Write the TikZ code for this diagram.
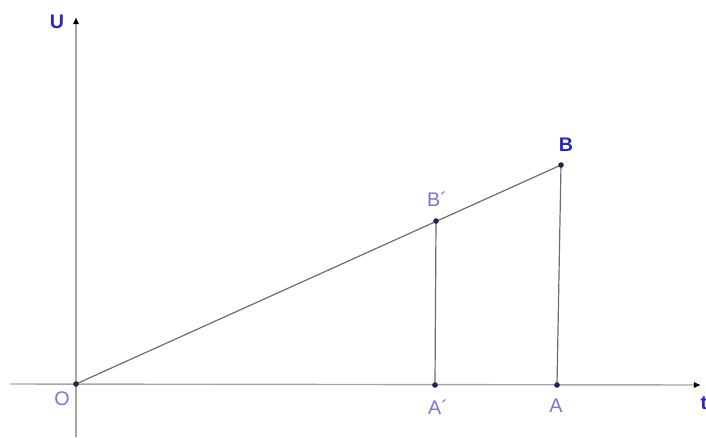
\documentclass[tikz,border=0pt]{standalone}
\usepackage{fontspec}
\setmainfont{Liberation Sans}
\usetikzlibrary{arrows.meta, positioning, calc}
\definecolor{lblblue}{RGB}{120,118,210}
\definecolor{ptblue}{RGB}{40,40,190}
\definecolor{dotnavy}{RGB}{35,35,90}

\begin{document}
\begin{tikzpicture}[
  x=0.025cm, y=-0.025cm,
  font=\fontsize{14}{16}\selectfont,
  >=Latex,
  axis/.style={draw=gray!70, line width=1pt},
  seg/.style={draw=gray!85!black, line width=0.85pt},
  pt/.style={circle, fill=dotnavy, inner sep=0pt, minimum size=4pt},
  lbl/.style={text=lblblue, inner sep=1pt},
  blbl/.style={text=ptblue, font=\fontsize{14}{16}\selectfont\bfseries, inner sep=1pt}
]
\useasboundingbox (0,0) rectangle (706,437);

% points
\coordinate (O) at (76,384);
\coordinate (Bp) at (436,221);
\coordinate (Ap) at (435,385);
\coordinate (B) at (561,165);
\coordinate (A) at (557,385);

% axes
\coordinate (xstart) at (10,384);
\coordinate (xend) at (701,385);
\coordinate (ystart) at (76,437);
\coordinate (yend) at (76,17);
\draw[axis, -{Latex[length=5pt,width=4.5pt,black]}] (xstart) -- (xend);
\draw[axis, -{Latex[length=5pt,width=4.5pt,black]}] (ystart) -- (yend);

% segments
\draw[seg] (O) -- (B);
\draw[seg] (Bp) -- (Ap);
\draw[seg] (B) -- (A);

% dots on top
\foreach \p in {O,Bp,Ap,B,A}
  \node[pt] (dot\p) at (\p) {};

% labels
\node[blbl] (U) at (57,22) {U};
\node[blbl] (Blab) at (566,145) {B};
\node[lbl] (Bplab) at (437,199) {B´};
\node[lbl] (Olab) at (62,399) {O};
\node[lbl] (Aplab) at (438,407) {A´};
\node[lbl] (Alab) at (556,406) {A};
\node[blbl, anchor=west] (t) at (699,403) {t};
\end{tikzpicture}
\end{document}
